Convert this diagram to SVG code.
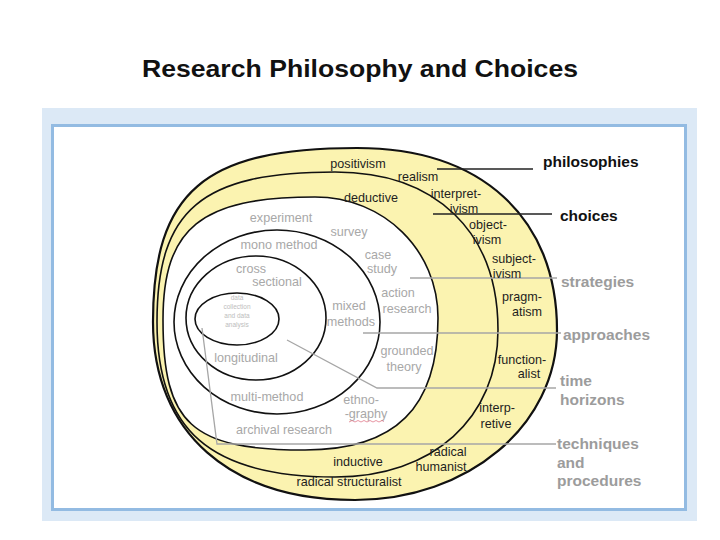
<svg xmlns="http://www.w3.org/2000/svg" width="720" height="540" viewBox="0 0 720 540">
  <defs>
    <style>
      .ring { fill: none; stroke: #111; stroke-width: 1.6; }
      .ph { font-family: "Liberation Sans", Arial, sans-serif; font-size: 12.6px; fill: #1e1e1e; text-anchor: middle; }
      .st { font-family: "Liberation Sans", Arial, sans-serif; font-size: 12.6px; fill: #a8a8a8; text-anchor: middle; }
      .tiny { font-family: "Liberation Sans", Arial, sans-serif; font-size: 6.5px; fill: #bdbdbd; text-anchor: middle; }
      .side { font-family: "Liberation Sans", Arial, sans-serif; font-size: 15.5px; font-weight: bold; fill: #9c9c9c; }
      .sideb { font-family: "Liberation Sans", Arial, sans-serif; font-size: 15.5px; font-weight: bold; fill: #111; }
      .lead { stroke: #a6a6a6; stroke-width: 1.3; fill: none; }
      .leadb { stroke: #222; stroke-width: 1.3; fill: none; }
    </style>
    <clipPath id="clipE3">
      <path d="M163,320 C163,227.75 201,197 315,197 C383.9,197 438,250.2 438,318 C438,407.8 395.4,450 305,450 C191.4,450 163,424 163,320 Z"/>
    </clipPath>
  </defs>

  <g id="background">
    <rect x="0" y="0" width="720" height="540" fill="#ffffff"/>
    <rect x="42" y="108" width="655" height="413" fill="#dce9f6"/>
    <rect x="52.5" y="125.5" width="633" height="384" fill="#ffffff" stroke="#93bbe2" stroke-width="3"/>
  </g>

  <g id="title">
    <text x="360" y="77" font-family="'Liberation Sans', Arial, sans-serif" font-size="24" font-weight="bold" fill="#111" text-anchor="middle" textLength="436" lengthAdjust="spacingAndGlyphs">Research Philosophy and Choices</text>
  </g>

  <g id="ring-philosophies">
    <path d="M153,322 C153,191.5 204,148 357,148 C481,148 557,217.2 557,330 C557,425.2 468.1,500 355,500 C229.8,500 153,432.4 153,322 Z" fill="#fbf3b0" stroke="#111" stroke-width="2.2"/>
  </g>

  <g id="ring-approaches">
    <path class="ring" d="M157,322 C157,209.5 201.5,172 335,172 C436.1,172 498,232 498,330 C498,418.2 432.8,477 335,477 C210.4,477 157,430.5 157,322 Z"/>
  </g>

  <g id="ring-strategies">
    <path d="M163,320 C163,227.75 201,197 315,197 C383.9,197 438,250.2 438,318 C438,407.8 395.4,450 305,450 C191.4,450 163,424 163,320 Z" fill="#ffffff" stroke="#111" stroke-width="1.6"/>
  </g>

  <g id="ring-choices">
    <ellipse class="ring" cx="277" cy="322" rx="103" ry="92"/>
  </g>

  <g id="ring-time-horizons">
    <ellipse class="ring" cx="256" cy="318" rx="70" ry="62"/>
  </g>

  <g id="ring-techniques">
    <ellipse class="ring" cx="237" cy="319" rx="42" ry="26"/>
  </g>

  <g id="connectors">
    <line class="leadb" x1="437" y1="169" x2="533" y2="169"/>
    <line class="leadb" x1="433" y1="214" x2="552" y2="214"/>
    <line class="lead" x1="410" y1="278" x2="557" y2="278"/>
    <line class="lead" x1="363" y1="333" x2="561" y2="333"/>
    <polyline class="lead" points="287,340 377,388 556,388"/>
    <polyline class="lead" points="202,328 217,444 556,444"/>
  </g>

  <g id="labels-philosophies">
    <text class="ph" x="358" y="168">positivism</text>
    <text class="ph" x="418" y="181">realism</text>
    <text class="ph" x="456" y="198">interpret-</text>
    <text class="ph" x="464" y="213">ivism</text>
    <text class="ph" x="488" y="229">object-</text>
    <text class="ph" x="487" y="244">ivism</text>
    <text class="ph" x="514" y="263">subject-</text>
    <text class="ph" x="507" y="278">ivism</text>
    <text class="ph" x="522" y="301">pragm-</text>
    <text class="ph" x="527" y="316">atism</text>
    <text class="ph" x="522" y="364">function-</text>
    <text class="ph" x="529" y="378">alist</text>
    <text class="ph" x="497" y="412">interp-</text>
    <text class="ph" x="496" y="428">retive</text>
    <text class="ph" x="448" y="456">radical</text>
    <text class="ph" x="441" y="471">humanist</text>
    <text class="ph" x="349" y="486">radical structuralist</text>
  </g>

  <g id="labels-approaches">
    <text class="ph" x="371" y="202">deductive</text>
    <text class="ph" x="358" y="466">inductive</text>
  </g>

  <g id="labels-strategies">
    <text class="st" x="281" y="222">experiment</text>
    <text class="st" x="349" y="236">survey</text>
    <text class="st" x="378" y="259">case</text>
    <text class="st" x="382" y="273">study</text>
    <text class="st" x="398" y="297">action</text>
    <text class="st" x="407" y="313">research</text>
    <text class="st" x="407" y="355" clip-path="url(#clipE3)">grounded</text>
    <text class="st" x="404" y="371">theory</text>
    <text class="st" x="361" y="404">ethno-</text>
    <text class="st" x="366" y="418">-graphy</text>
    <path d="M349,422 l3,-1.5 l3,1.5 l3,-1.5 l3,1.5 l3,-1.5 l3,1.5 l3,-1.5 l3,1.5 l3,-1.5 l3,1.5 l3,-1.5 l2,1" fill="none" stroke="#e07a8a" stroke-width="0.8"/>
    <text class="st" x="284" y="434">archival research</text>
  </g>

  <g id="labels-choices">
    <text class="st" x="279" y="249">mono method</text>
    <text class="st" x="349" y="310">mixed</text>
    <text class="st" x="351" y="326">methods</text>
    <text class="st" x="267" y="401">multi-method</text>
  </g>

  <g id="labels-time-horizons">
    <text class="st" x="251" y="273">cross</text>
    <text class="st" x="277" y="286">sectional</text>
    <text class="st" x="246" y="362">longitudinal</text>
  </g>

  <g id="labels-techniques">
    <text class="tiny" x="237" y="300">data</text>
    <text class="tiny" x="237" y="309">collection</text>
    <text class="tiny" x="237" y="318">and data</text>
    <text class="tiny" x="237" y="327">analysis</text>
  </g>

  <g id="side-labels">
    <text class="sideb" x="543" y="167">philosophies</text>
    <text class="sideb" x="560" y="221">choices</text>
    <text class="side" x="561" y="287">strategies</text>
    <text class="side" x="563" y="340">approaches</text>
    <text class="side" x="560" y="386">time</text>
    <text class="side" x="560" y="405">horizons</text>
    <text class="side" x="557" y="449">techniques</text>
    <text class="side" x="557" y="468">and</text>
    <text class="side" x="557" y="486">procedures</text>
  </g>
</svg>
